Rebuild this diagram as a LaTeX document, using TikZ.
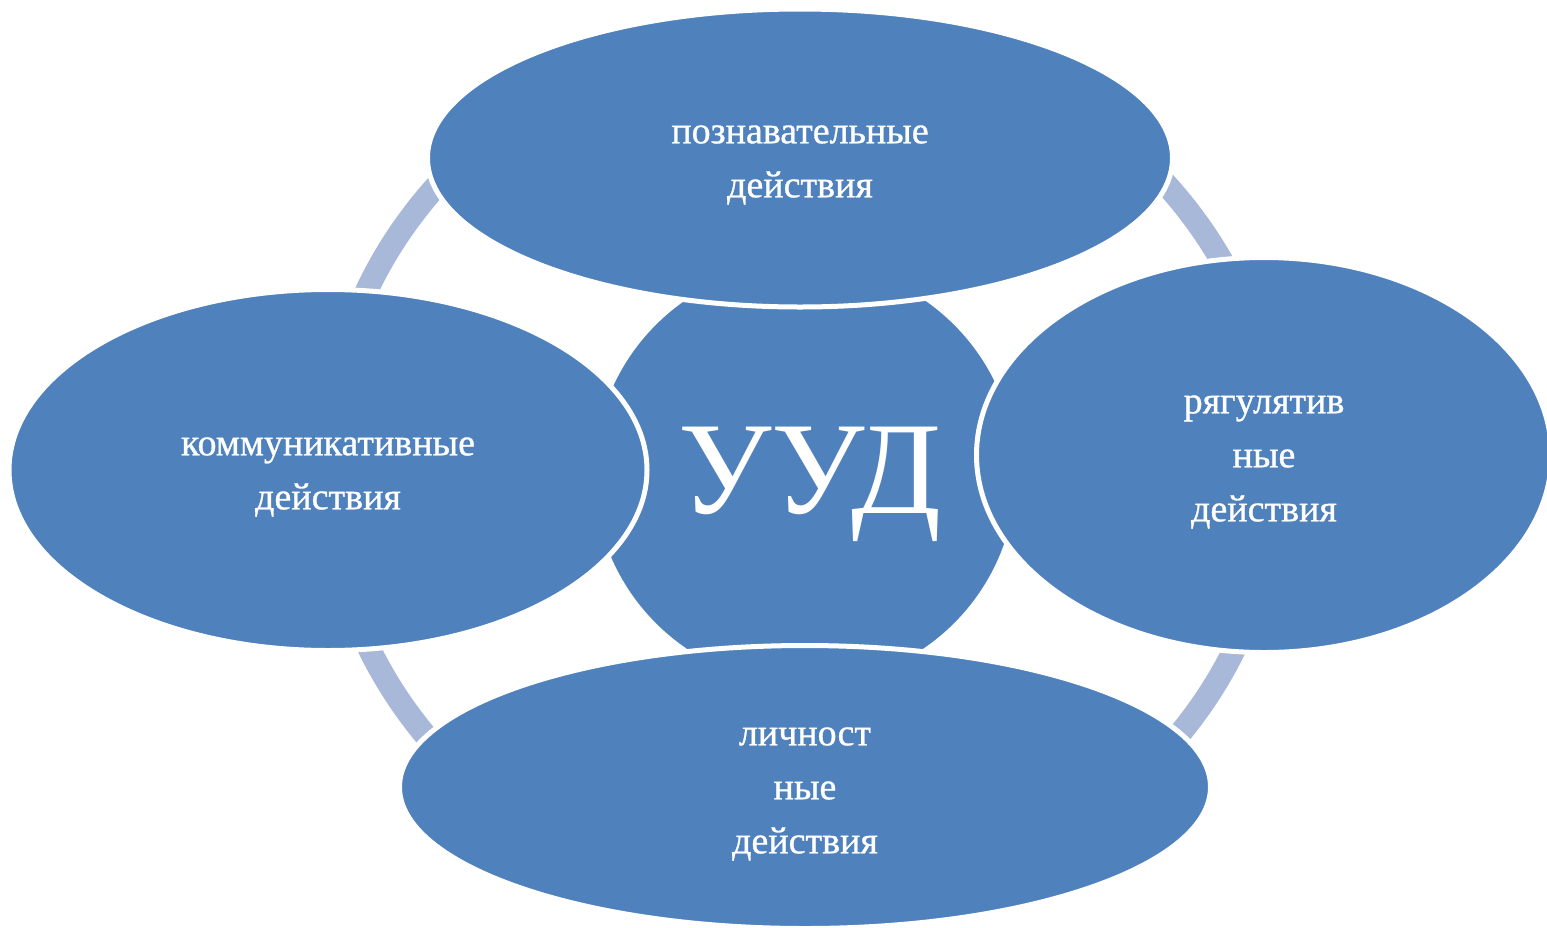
\documentclass[tikz,border=0pt]{standalone}
\usepackage{fontspec}
\setmainfont{Liberation Serif}
\usetikzlibrary{shapes.geometric}
\definecolor{blu}{RGB}{79,129,189}
\definecolor{ringc}{RGB}{168,184,217}
\tikzset{
  oval/.style={ellipse, fill=blu, draw=white, line width=5pt, inner sep=0pt},
  lbl/.style={text=white, align=center, inner sep=0pt, yshift=-7pt,
    font=\fontsize{38}{54}\selectfont\addfontfeature{FakeBold=0.8}},
  hub/.style={circle, fill=blu, draw=white, line width=4pt, inner sep=0pt},
  hubtext/.style={text=white, font=\fontsize{132}{140}\selectfont, inner sep=0pt}
}
\begin{document}
\begin{tikzpicture}[x=1pt,y=-1pt]
\useasboundingbox (0,0) rectangle (1547,927);
\fill[white] (0,0) rectangle (1547,927);
% ring
\coordinate (rc) at (802,467);
\draw[ringc, line width=23pt] (rc) ellipse[x radius=475pt, y radius=440pt];
% hub
\node[hub, minimum size=426pt] (hub) at (805,474) {};
\node[hubtext, anchor=base] (uud) at (810,513) {УУД};
% satellites
\node[oval, minimum width=745pt, minimum height=298pt] (top) at (800,158) {};
\node[oval, minimum width=638pt, minimum height=361pt] (left) at (328,470) {};
\node[oval, minimum width=575pt, minimum height=395pt] (right) at (1264,455) {};
\node[oval, minimum width=811pt, minimum height=283pt] (bottom) at (805,787) {};
\node[lbl] (topt) at (top) {познавательные\\действия};
\node[lbl] (leftt) at (left) {коммуникативные\\действия};
\node[lbl] (rightt) at (right) {рягулятив\\ные\\действия};
\node[lbl] (bottomt) at (bottom) {личност\\ные\\действия};
\end{tikzpicture}
\end{document}
